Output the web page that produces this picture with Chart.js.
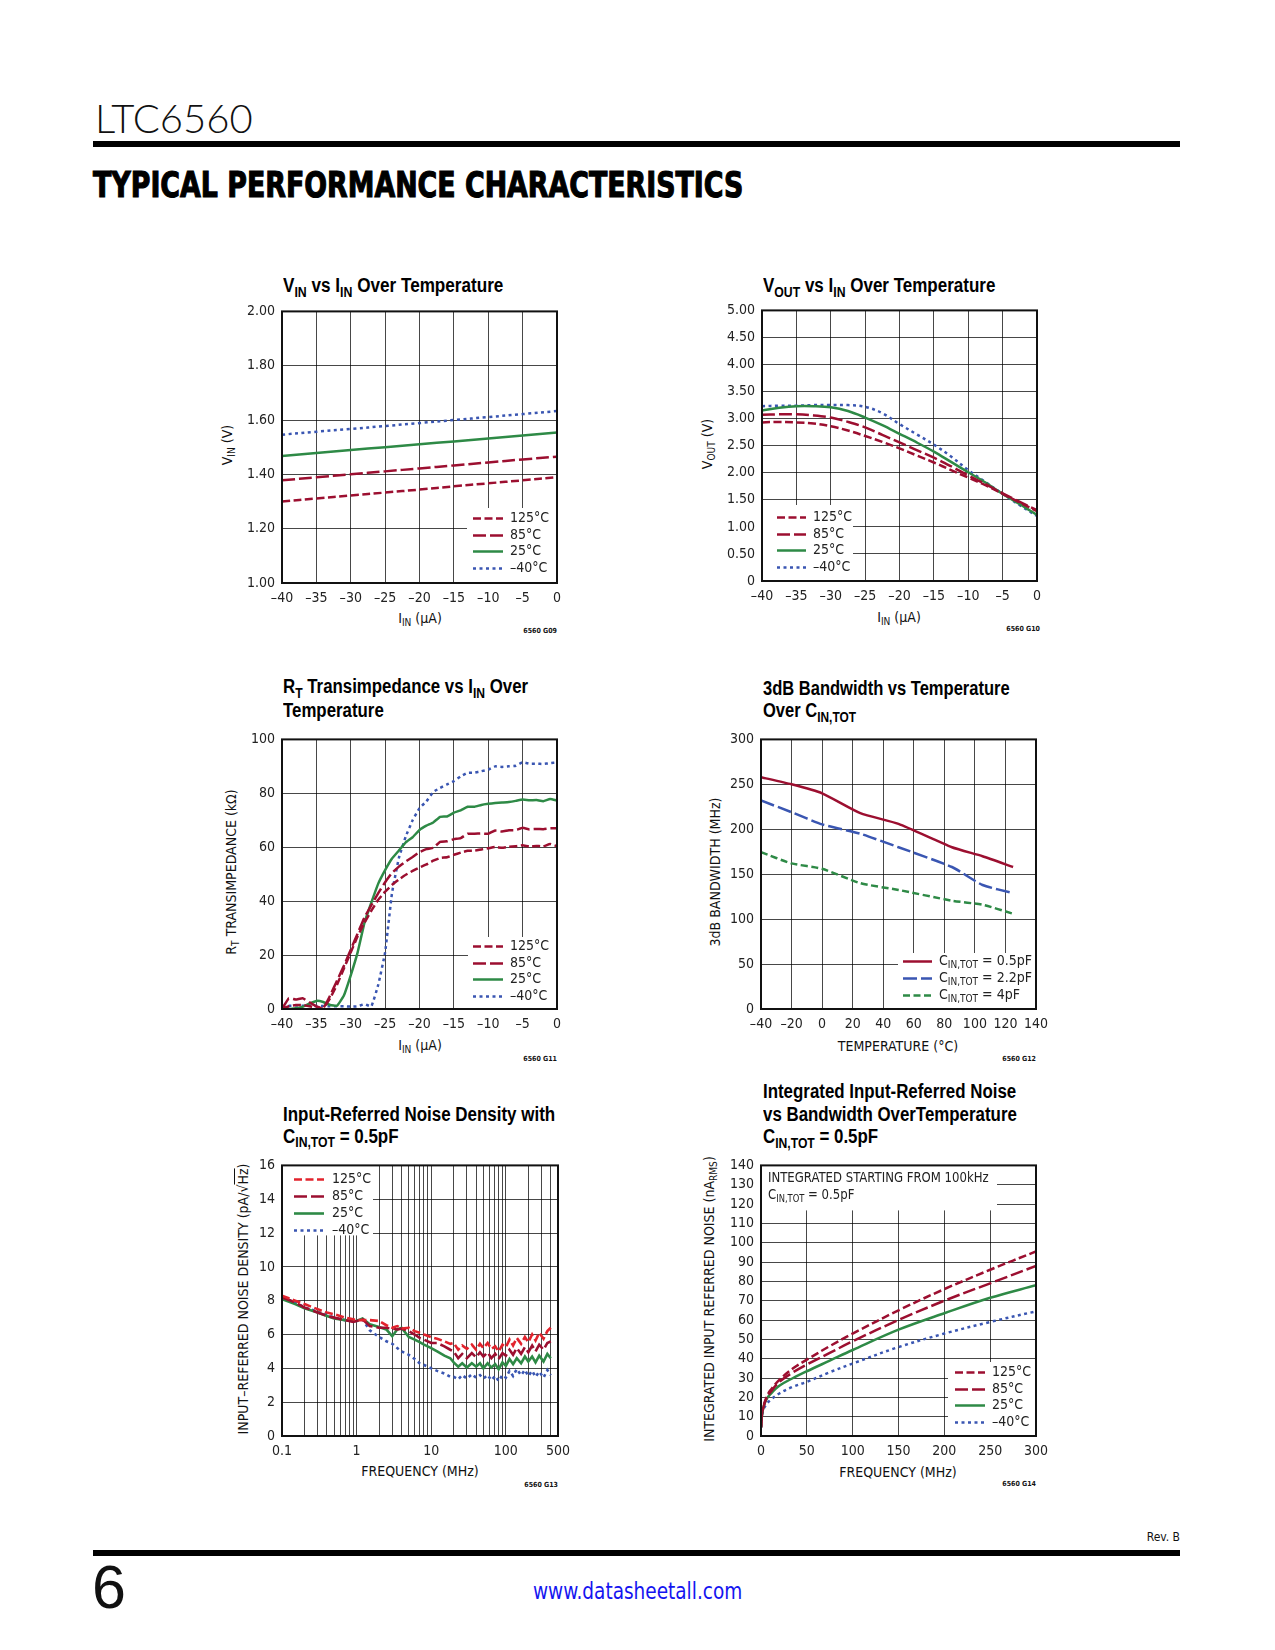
<!DOCTYPE html>
<html>
<head>
  <meta charset="UTF-8">
  <title>LTC6560 - Typical Performance Characteristics</title>
  <script src="https://cdn.jsdelivr.net/npm/chart.js"></script>
  <style>
    body { margin: 0; background: #fff; }
    #page { position: relative; width: 1275px; height: 1650px; overflow: hidden; background: #fff;
            font-family: 'Liberation Sans Narrow', 'DejaVu Sans Condensed', sans-serif; color: #111; }
    .abs { position: absolute; white-space: nowrap; }
    .bar { position: absolute; background: #000; }
    .fit { display: inline-block; transform-origin: 0 0; }
    .ctitle { font-family: 'Liberation Sans', Arial, sans-serif; font-weight: bold; font-size: 20px; line-height: 22px; color: #000; }
    .sb { font-size: 72%; position: relative; top: 0.32em; }
    .xt { font-size: 14px; line-height: 16px; transform: translate(-50%, -50%); }
    .yt { font-size: 14px; line-height: 16px; transform: translate(-50%, -50%) rotate(-90deg); }
    .code { font-size: 7px; font-weight: bold; line-height: 8px; transform: translate(-100%, -50%); }
    .wrap { position: absolute; }
  </style>
</head>
<body>
<div id="page">
  <!-- header -->
  <div class="abs fit" data-w="158" style="left:95px; top:96px; font-family:Lato, 'DejaVu Sans', sans-serif; font-weight:300; font-size:39px; line-height:44px;">LTC6560</div>
  <div class="bar" style="left:93px; top:141px; width:1087px; height:6px;"></div>
  <div class="abs fit" data-w="650" style="left:93px; top:165px; font-family:'DejaVu Sans', sans-serif; font-weight:bold; font-size:35px; line-height:40px; color:#000; -webkit-text-stroke:1.2px #000;">TYPICAL PERFORMANCE CHARACTERISTICS</div>

  <!-- chart titles -->
  <div class="abs ctitle fit" data-w="220" style="left:283px; top:274px;">V<span class="sb">IN</span> vs I<span class="sb">IN</span> Over Temperature</div>
  <div class="abs ctitle fit" data-w="232" style="left:763px; top:274px;">V<span class="sb">OUT</span> vs I<span class="sb">IN</span> Over Temperature</div>
  <div class="abs ctitle fit" data-w="245" style="left:283px; top:675px;">R<span class="sb">T</span> Transimpedance vs I<span class="sb">IN</span> Over<br>Temperature</div>
  <div class="abs ctitle fit" data-w="247" style="left:763px; top:677px;">3dB Bandwidth vs Temperature<br>Over C<span class="sb">IN,TOT</span></div>
  <div class="abs ctitle fit" data-w="272" style="left:283px; top:1104px; line-height:21.5px;">Input-Referred Noise Density with<br>C<span class="sb">IN,TOT</span> = 0.5pF</div>
  <div class="abs ctitle fit" data-w="254" style="left:763px; top:1080px; line-height:22.5px;">Integrated Input-Referred Noise<br>vs Bandwidth OverTemperature<br>C<span class="sb">IN,TOT</span> = 0.5pF</div>

  <!-- axis titles -->
  <div class="abs yt" style="left:228px; top:445px;">V<span class="sb">IN</span> (V)</div>
  <div class="abs xt" style="left:420px; top:619px;">I<span class="sb">IN</span> (µA)</div>
  <div class="abs code" style="left:557px; top:631px;">6560 G09</div>

  <div class="abs yt" style="left:708px; top:444px;">V<span class="sb">OUT</span> (V)</div>
  <div class="abs xt" style="left:899px; top:618px;">I<span class="sb">IN</span> (µA)</div>
  <div class="abs code" style="left:1040px; top:629px;">6560 G10</div>

  <div class="abs yt" style="left:232px; top:872px;">R<span class="sb">T</span> TRANSIMPEDANCE (kΩ)</div>
  <div class="abs xt" style="left:420px; top:1046px;">I<span class="sb">IN</span> (µA)</div>
  <div class="abs code" style="left:557px; top:1059px;">6560 G11</div>

  <div class="abs yt" style="left:715px; top:872px;">3dB BANDWIDTH (MHz)</div>
  <div class="abs xt" style="left:898px; top:1046px;">TEMPERATURE (°C)</div>
  <div class="abs code" style="left:1036px; top:1059px;">6560 G12</div>

  <div class="abs yt" style="left:243px; top:1299px;">INPUT–REFERRED NOISE DENSITY (pA/√<span style="text-decoration:overline">Hz</span>)</div>
  <div class="abs xt" style="left:420px; top:1471px;">FREQUENCY (MHz)</div>
  <div class="abs code" style="left:558px; top:1485px;">6560 G13</div>

  <div class="abs yt" style="left:710px; top:1299px;">INTEGRATED INPUT REFERRED NOISE (nA<span class="sb">RMS</span>)</div>
  <div class="abs xt" style="left:898px; top:1472px;">FREQUENCY (MHz)</div>
  <div class="abs code" style="left:1036px; top:1484px;">6560 G14</div>

  <!-- chart canvases -->
  <div class="wrap" id="w1"><canvas id="c1"></canvas></div>
  <div class="wrap" id="w2"><canvas id="c2"></canvas></div>
  <div class="wrap" id="w3"><canvas id="c3"></canvas></div>
  <div class="wrap" id="w4"><canvas id="c4"></canvas></div>
  <div class="wrap" id="w5"><canvas id="c5"></canvas></div>
  <div class="wrap" id="w6"><canvas id="c6"></canvas></div>

  <!-- footer -->
  <div class="abs" style="left:1180px; top:1530px; font-size:12px; line-height:14px; transform:translateX(-100%);">Rev. B</div>
  <div class="bar" style="left:93px; top:1550px; width:1087px; height:6px;"></div>
  <div class="abs" style="left:92px; top:1552px; font-family:'Liberation Sans', Arial, sans-serif; font-weight:300; font-size:61px; line-height:70px;">6</div>
  <div class="abs fit" data-w="209" style="left:533px; top:1577px; font-size:23px; line-height:28px; color:#1414f0;">www.datasheetall.com</div>
</div>

<script>
var FONT = "'Liberation Sans Narrow', 'DejaVu Sans Condensed', sans-serif";
var DARKRED = '#9c0f30';
var RED = '#e2232d';
var GREEN = '#2e8a46';
var BLUE = '#3a56b2';

// ---- chart 1 : VIN vs IIN
var vinCurrent = [-40, -35, -30, -25, -20, -15, -10, -5, 0];
var vin125 = [1.300, 1.311, 1.322, 1.333, 1.344, 1.356, 1.367, 1.378, 1.390];
var vin85  = [1.378, 1.389, 1.400, 1.411, 1.422, 1.433, 1.444, 1.455, 1.465];
var vin25  = [1.468, 1.479, 1.490, 1.500, 1.511, 1.521, 1.532, 1.543, 1.554];
var vinM40 = [1.546, 1.557, 1.567, 1.578, 1.589, 1.600, 1.611, 1.622, 1.633];
var vinXTicks = [-40, -35, -30, -25, -20, -15, -10, -5, 0];
var vinYTicks = [1.0, 1.2, 1.4, 1.6, 1.8, 2.0];

// ---- chart 2 : VOUT vs IIN
var voutCurrent = [-40, -37.5, -35, -32.5, -30, -27.5, -25, -22.5, -20, -17.5, -15, -12.5, -10, -7.5, -5, -2.5, 0];
var vout125 = [2.93, 2.94, 2.93, 2.91, 2.86, 2.78, 2.68, 2.57, 2.45, 2.32, 2.19, 2.05, 1.91, 1.77, 1.61, 1.45, 1.29];
var vout85  = [3.07, 3.08, 3.08, 3.06, 3.02, 2.94, 2.84, 2.70, 2.56, 2.42, 2.28, 2.12, 1.95, 1.79, 1.62, 1.46, 1.31];
var vout25  = [3.15, 3.20, 3.23, 3.23, 3.21, 3.14, 3.02, 2.88, 2.72, 2.56, 2.39, 2.20, 2.01, 1.82, 1.61, 1.42, 1.22];
var voutM40 = [3.23, 3.24, 3.24, 3.25, 3.25, 3.25, 3.22, 3.10, 2.90, 2.71, 2.52, 2.30, 2.05, 1.83, 1.61, 1.40, 1.20];
var voutXTicks = [-40, -35, -30, -25, -20, -15, -10, -5, 0];
var voutYTicks = [0, 0.5, 1, 1.5, 2, 2.5, 3, 3.5, 4, 4.5, 5];

// ---- chart 3 : RT transimpedance vs IIN
var rtCurrent = [-40, -39, -38, -37, -36, -35, -34, -33, -32, -31, -30, -29, -28, -27, -26, -25, -24, -23, -22, -21,
                 -20, -19, -18, -17, -16, -15, -14, -13, -12, -11, -10, -9, -8, -7, -6, -5, -4, -3, -2, -1, 0];
var rt125 = [0, 1, 1.5, 1.5, 1, 0.5, 0.3, 4, 9, 15, 21, 27, 32, 36.5, 40.5, 43.5, 46, 48, 49.8, 51.2,
             52.5, 53.6, 55, 56, 56.3, 57.2, 58, 58.7, 58.7, 59.2, 59.6, 60.1, 59.8, 60.2, 60.4, 60.7, 60.2, 60.5, 60.3, 61.2, 60.4];
var rt85  = [0, 4, 3.5, 4, 2.5, 1, 0.3, 5, 10.5, 16, 22, 28, 34, 38.5, 43, 47, 50.5, 52.8, 54.7, 56.4,
             58.2, 59.3, 59.8, 62, 62.2, 63, 63.4, 65, 65, 65.1, 65, 66.2, 65.8, 66.3, 66.3, 67.2, 66.6, 66.8, 66.7, 67, 67];
var rt25  = [0, 0, 0.3, 0.8, 2, 3, 2.6, 1.5, 1.2, 5, 12.5, 21, 32, 39.5, 46.5, 51.5, 55.8, 58.8, 61.8, 63.7,
             66.4, 68, 69.2, 71.3, 71.4, 72.8, 73.7, 75, 75, 75.7, 76.1, 76.4, 76.6, 76.8, 77.2, 77.7, 77.4, 77.5, 77.1, 77.9, 77.3];
var rtM40 = [1, 1.2, 1.3, 1.2, 1.2, 1.1, 1.1, 1, 1, 1, 0.9, 1, 1.8, 1, 9, 21, 43, 56, 64, 70,
             74.5, 77, 80.5, 82, 83.3, 84.5, 86.3, 87.6, 87.7, 88.2, 88.8, 90, 89.8, 90, 90.2, 91.5, 91, 91, 90.9, 91.2, 91.5];
var rtXTicks = [-40, -35, -30, -25, -20, -15, -10, -5, 0];
var rtYTicks = [0, 20, 40, 60, 80, 100];

// ---- chart 4 : 3dB bandwidth vs temperature
var bwTemp = [-40, -20, 0, 25, 50, 85, 105, 125];
var bw05pF = [258, 250, 240, 218, 206, 180, 170, 158];
var bw22pF = [232, 219, 205.5, 195, 180, 158, 138, 129];
var bw4pF  = [174.5, 162, 156, 140, 132.5, 120.5, 116, 106];
var bwXTicks = [-40, -20, 0, 20, 40, 60, 80, 100, 120, 140];
var bwYTicks = [0, 50, 100, 150, 200, 250, 300];

// ---- chart 5 : input-referred noise density
var noiseFreq = [0.1, 0.15, 0.2, 0.3, 0.4, 0.5, 0.7, 0.9,
                 1, 1.2, 1.5, 2, 2.5, 3, 3.5, 4, 5, 6, 7, 8,
                 10, 12, 15, 18, 20, 23, 26, 30, 35, 40, 45, 50, 57, 64, 72, 80, 90,
                 100, 112, 125, 140, 160, 180, 200, 225, 250, 280, 320, 360, 400];
var nd125 = [8.3, 8.0, 7.8, 7.5, 7.3, 7.2, 7.0, 6.9,
             6.85, 6.85, 6.85, 6.8, 6.55, 6.4, 6.5, 6.35, 6.4, 6.2, 6.1, 6.0,
             5.85, 5.75, 5.6, 5.45, 5.5, 5.1, 5.35, 5.15, 5.4, 5.1, 5.45, 5.2, 5.5, 5.15, 5.3, 5.0, 5.4,
             5.25, 5.7, 5.35, 5.8, 5.45, 5.85, 5.55, 6.0, 5.65, 6.1, 5.75, 6.2, 6.4];
var nd85  = [8.2, 7.9, 7.6, 7.3, 7.1, 7.0, 6.85, 6.75,
             6.8, 6.9, 6.5, 6.4, 6.4, 6.35, 6.3, 6.35, 6.2, 6.0, 5.8, 5.7,
             5.5, 5.5, 5.3, 5.1, 5.0, 4.6, 4.85, 4.6, 4.9, 4.65, 4.95, 4.7, 4.95, 4.6, 4.85, 4.55, 4.9,
             4.75, 5.1, 4.8, 5.2, 4.85, 5.25, 4.95, 5.35, 5.0, 5.4, 5.1, 5.5, 5.6];
var nd25  = [8.1, 7.8, 7.55, 7.3, 7.1, 6.95, 6.85, 6.8,
             6.8, 6.95, 6.6, 6.45, 6.3, 5.9, 6.3, 6.4, 5.85, 5.7, 5.55, 5.4,
             5.2, 5.0, 4.75, 4.6, 4.35, 4.1, 4.3, 4.05, 4.3, 4.1, 4.3, 4.0, 4.3, 4.05, 4.25, 3.95, 4.35,
             4.15, 4.55, 4.25, 4.6, 4.3, 4.7, 4.4, 4.7, 4.35, 4.75, 4.4, 4.85, 4.6];
var ndM40 = [8.2, 7.9, 7.6, 7.35, 7.15, 7.0, 6.85, 6.8,
             6.8, 6.9, 6.25, 5.85, 5.6, 5.45, 5.2, 5.0, 4.8, 4.55, 4.3, 4.2,
             4.0, 3.85, 3.7, 3.5, 3.5, 3.35, 3.6, 3.4, 3.65, 3.45, 3.6, 3.4, 3.6, 3.3, 3.55, 3.25, 3.6,
             3.45, 3.85, 3.55, 3.95, 3.6, 3.9, 3.55, 3.85, 3.5, 3.8, 3.45, 3.9, 3.6];
var ndXGrid = [0.1, 0.2, 0.3, 0.4, 0.5, 0.6, 0.7, 0.8, 0.9, 1, 2, 3, 4, 5, 6, 7, 8, 9,
               10, 20, 30, 40, 50, 60, 70, 80, 90, 100, 200, 300, 400, 500];
var ndXLabels = [0.1, 1, 10, 100, 500];
var ndYTicks = [0, 2, 4, 6, 8, 10, 12, 14, 16];

// ---- chart 6 : integrated noise vs bandwidth
var inFreq = [0.1, 1, 3, 6, 10, 20, 35, 50, 75, 100, 150, 200, 250, 300];
var in125 = [4.5, 11, 16, 20, 23.5, 29, 35, 39.5, 46.5, 53, 65, 76, 86, 95.5];
var in85  = [4.5, 11, 15.5, 19.5, 22.5, 28, 33, 37, 43, 49, 60, 70, 79, 88];
var in25  = [4.5, 10.5, 15.5, 19, 21.5, 26, 30, 33.5, 39, 44.5, 55, 63.5, 71.5, 78];
var inM40 = [4.5, 10, 14, 16.5, 18.5, 22, 25.5, 28, 33, 37.5, 46, 53, 59, 64.5];
var inXTicks = [0, 50, 100, 150, 200, 250, 300];
var inYTicks = [0, 10, 20, 30, 40, 50, 60, 70, 80, 90, 100, 110, 120, 130, 140];
var noteLines = ['INTEGRATED STARTING FROM 100kHz', 'C_{IN,TOT} = 0.5pF'];

var tempLabels = ['125°C', '85°C', '25°C', '–40°C'];
var capLabels = ['C_{IN,TOT} = 0.5pF', 'C_{IN,TOT} = 2.2pF', 'C_{IN,TOT} = 4pF'];

// fixed axis sizes so the plot boxes land where the datasheet has them
var YW = 60, XH = 40, PT = 12, PR = 24;

function drawRich(ctx, text, x, y, size, sx) {
  var parts = text.split(/(_\{[^}]*\})/);
  var cx = 0;
  ctx.save();
  ctx.translate(x, y);
  ctx.scale(sx || 1, 1);
  parts.forEach(function (p) {
    if (!p) return;
    if (p.indexOf('_{') === 0) {
      var s = p.slice(2, -1);
      ctx.font = Math.round(size * 0.72) + 'px ' + FONT;
      ctx.fillText(s, cx, size * 0.3);
      cx += ctx.measureText(s).width;
    } else {
      ctx.font = size + 'px ' + FONT;
      ctx.fillText(p, cx, 0);
      cx += ctx.measureText(p).width;
    }
  });
  ctx.restore();
}

function boxOrigin(a, o) {
  return {
    x: o.anchor.indexOf('r') >= 0 ? a.right - o.w : a.left,
    y: o.anchor.indexOf('b') >= 0 ? a.bottom - o.h : a.top
  };
}

var boxLegend = {
  id: 'boxLegend',
  afterDatasetsDraw: function (chart, args, opts) {
    var ctx = chart.ctx, a = chart.chartArea;
    ctx.save();
    ctx.textBaseline = 'middle';
    ctx.textAlign = 'left';
    if (opts.note) {
      var n = opts.note, p = boxOrigin(a, n);
      ctx.fillStyle = '#fff';
      ctx.fillRect(p.x, p.y, n.w, n.h);
      ctx.fillStyle = '#222';
      n.lines.forEach(function (t, i) { drawRich(ctx, t, p.x + n.textX, p.y + n.rowY + i * n.rowH, 14, n.sx); });
    }
    if (opts.legend) {
      var o = opts.legend, q = boxOrigin(a, o);
      ctx.fillStyle = '#fff';
      ctx.fillRect(q.x, q.y, o.w, o.h);
      chart.data.datasets.forEach(function (ds, i) {
        var y = Math.round(q.y + o.rowY + i * o.rowH) + 0.5;
        ctx.beginPath();
        ctx.strokeStyle = ds.borderColor;
        ctx.lineWidth = ds.borderWidth;
        ctx.setLineDash(ds.borderDash || []);
        ctx.moveTo(q.x + o.lineX, y);
        ctx.lineTo(q.x + o.lineX + o.lineLen, y);
        ctx.stroke();
        ctx.setLineDash([]);
        ctx.fillStyle = '#222';
        drawRich(ctx, ds.label, q.x + o.textX, y, 14);
      });
    }
    ctx.restore();
  }
};

var frame = {
  id: 'frame',
  afterDraw: function (chart) {
    var ctx = chart.ctx, a = chart.chartArea;
    ctx.save();
    ctx.strokeStyle = '#111';
    ctx.lineWidth = 2;
    ctx.strokeRect(a.left, a.top, a.right - a.left, a.bottom - a.top);
    ctx.restore();
  }
};

Chart.register(boxLegend, frame);

function dash(s) { return String(s).replace('-', '–'); }

function axis(isX, tickVals, labelFn, extra) {
  var cfg = {
    type: 'linear',
    min: tickVals[0],
    max: tickVals[tickVals.length - 1],
    afterBuildTicks: function (s) { s.ticks = tickVals.map(function (v) { return { value: v }; }); },
    afterFit: function (s) { if (isX) s.height = XH; else s.width = YW; },
    ticks: {
      autoSkip: false, maxRotation: 0, minRotation: 0,
      padding: isX ? 7 : 7,
      color: '#222',
      font: { family: FONT, size: 14 },
      callback: labelFn
    },
    grid: { color: 'rgba(0,0,0,0.72)', lineWidth: 1, drawTicks: false },
    border: { display: false }
  };
  return Object.assign(cfg, extra || {});
}

function series(label, xs, ys, color, dashArr, width) {
  return {
    label: label,
    data: xs.map(function (x, i) { return { x: x, y: ys[i] }; }),
    borderColor: color,
    borderWidth: width || 2.5,
    borderDash: dashArr,
    pointRadius: 0,
    tension: 0.35,
    fill: false
  };
}

var D125 = [8, 3.5], D85 = [13, 4], DDOT = [3, 3.5];

function makeChart(n, box, datasets, xAxis, yAxis, pluginOpts) {
  var w = box.R - box.L + YW + PR, h = box.B - box.T + PT + XH;
  var wrap = document.getElementById('w' + n);
  wrap.style.left = (box.L - YW) + 'px';
  wrap.style.top = (box.T - PT) + 'px';
  var cv = document.getElementById('c' + n);
  cv.width = w; cv.height = h;
  cv.style.width = w + 'px'; cv.style.height = h + 'px';
  return new Chart(cv.getContext('2d'), {
    type: 'line',
    data: { datasets: datasets },
    options: {
      responsive: false,
      animation: false,
      devicePixelRatio: 1,
      layout: { padding: { top: PT, right: PR, left: 0, bottom: 0 } },
      scales: { x: xAxis, y: yAxis },
      plugins: {
        legend: { display: false },
        tooltip: { enabled: false },
        boxLegend: pluginOpts
      }
    }
  });
}

var c1 = makeChart(1, { L: 282, T: 308, R: 557, B: 583 }, [
    series(tempLabels[0], vinCurrent, vin125, DARKRED, D125),
    series(tempLabels[1], vinCurrent, vin85, DARKRED, D85),
    series(tempLabels[2], vinCurrent, vin25, GREEN, []),
    series(tempLabels[3], vinCurrent, vinM40, BLUE, DDOT)
  ],
  axis(true, vinXTicks, function (v) { return dash(v); }),
  axis(false, vinYTicks, function (v) { return v.toFixed(2); }),
  { legend: { anchor: 'br', w: 90, h: 75, lineX: 6, lineLen: 30, textX: 43, rowY: 10, rowH: 16.7 } });

var c2 = makeChart(2, { L: 762, T: 307, R: 1037, B: 581 }, [
    series(tempLabels[0], voutCurrent, vout125, DARKRED, D125),
    series(tempLabels[1], voutCurrent, vout85, DARKRED, D85),
    series(tempLabels[2], voutCurrent, vout25, GREEN, []),
    series(tempLabels[3], voutCurrent, voutM40, BLUE, DDOT)
  ],
  axis(true, voutXTicks, function (v) { return dash(v); }),
  axis(false, voutYTicks, function (v) { return v === 0 ? '0' : v.toFixed(2); }),
  { legend: { anchor: 'bl', w: 91, h: 76, lineX: 15, lineLen: 29, textX: 51, rowY: 12, rowH: 16.7 } });

var c3 = makeChart(3, { L: 282, T: 736, R: 557, B: 1009 }, [
    series(tempLabels[0], rtCurrent, rt125, DARKRED, D125),
    series(tempLabels[1], rtCurrent, rt85, DARKRED, D85),
    series(tempLabels[2], rtCurrent, rt25, GREEN, []),
    series(tempLabels[3], rtCurrent, rtM40, BLUE, DDOT)
  ].map(function (d) { d.tension = 0.1; return d; }),
  axis(true, rtXTicks, function (v) { return dash(v); }),
  axis(false, rtYTicks, function (v) { return String(v); }),
  { legend: { anchor: 'br', w: 89, h: 72, lineX: 5, lineLen: 30, textX: 42, rowY: 9, rowH: 16.7 } });

var c4 = makeChart(4, { L: 761, T: 736, R: 1036, B: 1009 }, [
    series(capLabels[0], bwTemp, bw05pF, DARKRED, []),
    series(capLabels[1], bwTemp, bw22pF, BLUE, [14, 4]),
    series(capLabels[2], bwTemp, bw4pF, GREEN, [7, 3.5])
  ].map(function (d) { d.tension = 0.2; return d; }),
  axis(true, bwXTicks, function (v) { return dash(v); }),
  axis(false, bwYTicks, function (v) { return String(v); }),
  { legend: { anchor: 'br', w: 138, h: 56, lineX: 5, lineLen: 29, textX: 41, rowY: 8, rowH: 17 } });

var c5 = makeChart(5, { L: 282, T: 1162, R: 558, B: 1436 }, [
    series(tempLabels[0], noiseFreq, nd125, RED, D125, 2.6),
    series(tempLabels[1], noiseFreq, nd85, DARKRED, D85, 2.6),
    series(tempLabels[2], noiseFreq, nd25, GREEN, [], 2.6),
    series(tempLabels[3], noiseFreq, ndM40, BLUE, DDOT, 2.6)
  ].map(function (d) { d.tension = 0; return d; }),
  axis(true, ndXGrid, function (v) { return ndXLabels.indexOf(v) >= 0 ? String(v) : ''; }, { type: 'logarithmic', min: 0.1, max: 500 }),
  axis(false, ndYTicks, function (v) { return String(v); }),
  { legend: { anchor: 'tl', w: 91, h: 70, lineX: 12, lineLen: 30, textX: 50, rowY: 14, rowH: 16.7 } });

var c6 = makeChart(6, { L: 761, T: 1162, R: 1036, B: 1436 }, [
    series(tempLabels[0], inFreq, in125, DARKRED, D125),
    series(tempLabels[1], inFreq, in85, DARKRED, D85),
    series(tempLabels[2], inFreq, in25, GREEN, []),
    series(tempLabels[3], inFreq, inM40, BLUE, DDOT)
  ],
  axis(true, inXTicks, function (v) { return String(v); }),
  axis(false, inYTicks, function (v) { return String(v); }),
  {
    legend: { anchor: 'br', w: 88, h: 74, lineX: 7, lineLen: 30, textX: 44, rowY: 10, rowH: 16.7 },
    note: { anchor: 'tl', w: 236, h: 45, textX: 7, rowY: 13, rowH: 17, sx: 0.93, lines: noteLines }
  });

// squeeze the header, title and footer words to the widths they have on the page
document.querySelectorAll('.fit').forEach(function (el) {
  var target = parseFloat(el.getAttribute('data-w'));
  el.style.transform = 'scaleX(' + (target / el.offsetWidth) + ')';
});
</script>
</body>
</html>
